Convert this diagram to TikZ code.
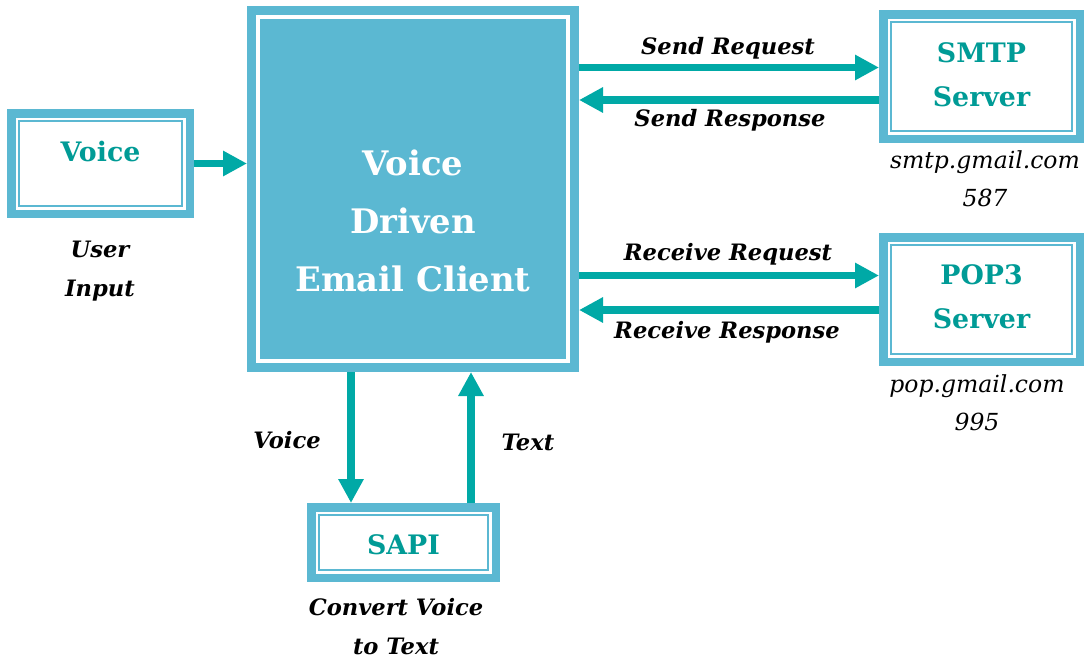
\documentclass[tikz,border=0pt]{standalone}
\usepackage{fontspec}
\setmainfont{DejaVu Serif}
\usetikzlibrary{arrows.meta,calc}
\definecolor{bordc}{HTML}{5BB8D2}
\definecolor{arrc}{HTML}{00A9A6}
\definecolor{tealtxt}{HTML}{009B96}
\tikzset{
  box/.style={draw=bordc, line width=8.5pt, fill=white, inner sep=0pt},
  mainbox/.style={draw=bordc, line width=9pt, fill=white, inner sep=0pt},
  thinframe/.style={draw=bordc, line width=2pt},
  arr/.style={draw=arrc, line width=7.5pt, -{Triangle[length=24pt,width=24pt]}},
  boxtxt/.style={text=tealtxt, font=\bfseries\fontsize{26.8}{44}\selectfont, align=center, inner sep=0pt},
  maintxt/.style={text=white, font=\bfseries\fontsize{33.8}{58}\selectfont, align=center, inner sep=0pt},
  lbl/.style={font=\bfseries\itshape\fontsize{22.6}{39}\selectfont, align=center, inner sep=0pt},
  addr/.style={font=\itshape\fontsize{23.5}{38}\selectfont, align=center, inner sep=0pt},
}
\newcommand{\frameit}[1]{\draw[thinframe] ([shift={(12pt,-12pt)}]#1.north west) rectangle ([shift={(-12pt,12pt)}]#1.south east);}
\begin{document}
\begin{tikzpicture}[x=1pt,y=-1pt]
\useasboundingbox (0,0) rectangle (1088,664);
% main box
\node[mainbox, minimum width=323pt, minimum height=357pt] (main) at (413,189) {};
\fill[bordc] ([shift={(13pt,-13pt)}]main.north west) rectangle ([shift={(-13pt,13pt)}]main.south east);
\node[maintxt] (maint) at (413,221) {Voice\\Driven\\Email Client};
% voice box
\node[box, minimum width=178.5pt, minimum height=100.5pt] (voice) at (100.5,163.5) {};
\frameit{voice}
\node[boxtxt] (voicet) at (100.5,152) {Voice};
% smtp
\node[box, minimum width=196.5pt, minimum height=124.5pt] (smtp) at (981.5,76.5) {};
\frameit{smtp}
\node[boxtxt] (smtpt) at (981.5,75) {SMTP\\Server};
% pop3
\node[box, minimum width=196.5pt, minimum height=124.5pt] (pop) at (981.5,299.5) {};
\frameit{pop}
\node[boxtxt] (popt) at (981.5,297) {POP3\\Server};
% sapi
\node[box, minimum width=184.5pt, minimum height=70.5pt] (sapi) at (403.5,542.5) {};
\frameit{sapi}
\node[boxtxt] (sapit) at (403.5,545) {SAPI};
% arrows
\draw[arr] (voice.east) -- (main.west |- voice.east);
\draw[arr] (main.east |- {0,67.5}) -- (smtp.west |- {0,67.5});
\draw[arr] (smtp.west |- {0,100}) -- (main.east |- {0,100});
\draw[arr] (main.east |- {0,275.5}) -- (pop.west |- {0,275.5});
\draw[arr] (pop.west |- {0,310}) -- (main.east |- {0,310});
\draw[arr] (main.south -| {351,0}) -- (sapi.north -| {351,0});
\draw[arr] (sapi.north -| {471,0}) -- (main.south -| {471,0});
% labels
\node[lbl] (l1) at (728,48) {Send Request};
\node[lbl] (l2) at (730,120) {Send Response};
\node[lbl] (l3) at (728,254) {Receive Request};
\node[lbl] (l4) at (727,332) {Receive Response};
\node[lbl] (l5) at (100,271.5) {User\\Input};
\node[lbl] (l6) at (287,440) {Voice};
\node[lbl] (l7) at (528,442) {Text};
\node[lbl] (l8) at (396,626.5) {Convert Voice\\to Text};
\node[addr] (a1) at (985,179) {smtp.gmail.com\\587};
\node[addr] (a2) at (977,402.5) {pop.gmail.com\\995};
\end{tikzpicture}
\end{document}
